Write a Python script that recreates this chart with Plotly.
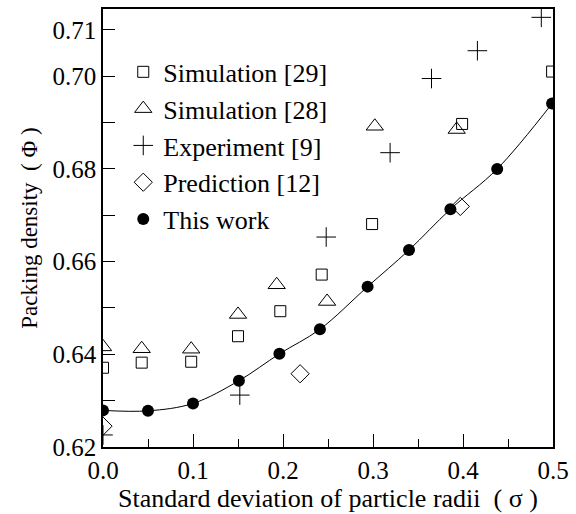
import plotly.graph_objects as go

# Data
sim29_x = [0.0, 0.043, 0.098, 0.150, 0.197, 0.243, 0.299, 0.399, 0.499]
sim29_y = [0.6371, 0.6382, 0.6384, 0.6439, 0.6493, 0.6572, 0.6681, 0.6897, 0.7010]

sim28_x = [0.0, 0.043, 0.098, 0.150, 0.193, 0.249, 0.302, 0.393]
sim28_y = [0.6416, 0.6412, 0.6411, 0.6486, 0.6550, 0.6514, 0.6892, 0.6885]

exp9_x = [0.0, 0.152, 0.248, 0.319, 0.365, 0.416, 0.487]
exp9_y = [0.6226, 0.6312, 0.6653, 0.6835, 0.6995, 0.7055, 0.7127]

pred12_x = [0.0, 0.219, 0.397]
pred12_y = [0.6245, 0.6358, 0.6719]

work_x = [0.0, 0.05, 0.10, 0.151, 0.196, 0.241, 0.294, 0.340, 0.386, 0.438, 0.499]
work_y = [0.6279, 0.6278, 0.6294, 0.6343, 0.6401, 0.6454, 0.6546, 0.6625, 0.6713, 0.6800, 0.6941]

y_tickvals = [0.62, 0.63, 0.64, 0.65, 0.66, 0.67, 0.68, 0.69, 0.70, 0.71]
y_ticktext = ["0.62", "", "0.64", "", "0.66", "", "0.68", "", "0.70", "0.71"]
x_tickvals = [0.0, 0.1, 0.2, 0.3, 0.4, 0.5]
x_ticktext = ["0.0", "0.1", "0.2", "0.3", "0.4", "0.5"]

FONT = "Liberation Serif"

fig = go.Figure()

fig.add_trace(go.Scatter(
    x=work_x, y=work_y, mode="lines", line=dict(color="black", width=1, shape="spline"),
    showlegend=False, hoverinfo="skip"))

fig.add_trace(go.Scatter(
    x=sim29_x, y=sim29_y, mode="markers", name="Simulation [29]",
    marker=dict(symbol="square-open", size=11, color="black", line=dict(width=1))))
fig.add_trace(go.Scatter(
    x=sim28_x, y=sim28_y, mode="markers", name="Simulation [28]",
    marker=dict(symbol="triangle-up-open", size=15, color="black", line=dict(width=1))))
fig.add_trace(go.Scatter(
    x=exp9_x, y=exp9_y, mode="markers", name="Experiment [9]",
    marker=dict(symbol="cross-thin-open", size=14, color="black", line=dict(width=1, color="black"))))
fig.add_trace(go.Scatter(
    x=pred12_x, y=pred12_y, mode="markers", name="Prediction [12]",
    marker=dict(symbol="diamond-open", size=14, color="black", line=dict(width=1))))
fig.add_trace(go.Scatter(
    x=work_x, y=work_y, mode="markers", name="This work",
    marker=dict(symbol="circle", size=12, color="black")))

fig.update_layout(
    width=576, height=514,
    margin=dict(l=103, r=16, t=7, b=67),
    paper_bgcolor="white", plot_bgcolor="white",
    font=dict(family=FONT, size=22, color="black"),
    showlegend=True,
    legend=dict(x=0.045, y=0.91, xanchor="left", yanchor="top",
                bgcolor="rgba(0,0,0,0)", font=dict(size=26),
                itemwidth=30),
    xaxis=dict(range=[0, 0.5], tickvals=x_tickvals, ticktext=x_ticktext,
               ticks="inside", ticklen=13, tickcolor="black", tickwidth=1,
               minor=dict(dtick=0.05, ticks="inside", ticklen=8, tickcolor="black"),
               showline=True, linecolor="black", linewidth=1.5, mirror=True,
               showgrid=False, zeroline=False,
               tickfont=dict(size=25),
               title=dict(text="Standard deviation of particle radii  ( σ )",
                          font=dict(size=26), standoff=2)),
    yaxis=dict(range=[0.62, 0.7145], tickvals=y_tickvals, ticktext=y_ticktext,
               ticks="inside", ticklen=12, tickcolor="black", tickwidth=1,
               showline=True, linecolor="black", linewidth=1.5, mirror=True,
               showgrid=False, zeroline=False,
               tickfont=dict(size=25),
               title=dict(text="Packing density  ( Φ )", font=dict(size=23), standoff=8)),
)

fig.write_html("out.html")
